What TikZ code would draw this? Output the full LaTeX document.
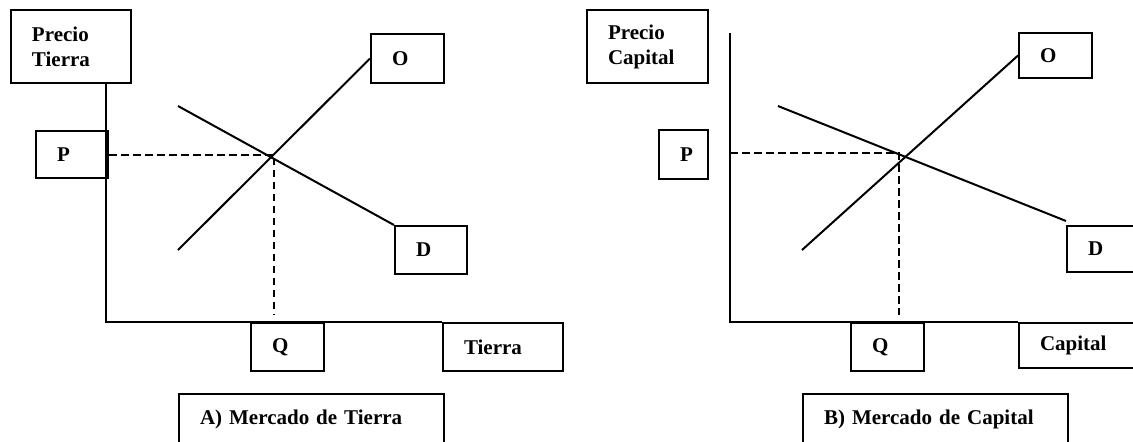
\documentclass[tikz,border=0pt]{standalone}
\usepackage{fontspec}
\setmainfont{Liberation Serif}
\tikzset{
  caja/.style={draw, line width=1pt, anchor=north west, inner xsep=10.5pt,
    inner ysep=0pt, align=left, font=\bfseries\fontsize{10.5}{12.5}\selectfont},
  curva/.style={line width=1pt},
  guia/.style={line width=1pt, dash pattern=on 3.75pt off 2.25pt}
}
\begin{document}
\begin{tikzpicture}[x=.5pt, y=-.5pt]

    \path[use as bounding box, clip] (0,0) rectangle (1133,441); % page

    % A) Mercado de Tierra
    \node[caja, text width=39pt, minimum height=36.5pt] (ptA) at (10,9) {Precio\\Tierra};
    \node[caja, text width=15pt, minimum height=23.5pt] (pA) at (35,130) {P};
    \node[caja, text width=15.5pt, minimum height=24.5pt] (oA) at (370,33) {O};
    \node[caja, text width=15pt, minimum height=24pt] (dA) at (394,225) {D};
    \node[caja, text width=15.5pt, minimum height=24pt] (qA) at (250,322) {Q};
    \node[caja, text width=39pt, minimum height=24pt] (tierra) at (442,322) {Tierra};
    \node[caja, text width=111.5pt, minimum height=25pt] (tituloA) at (178,393) {A) Mercado de Tierra};

    \coordinate (origenA) at (106,322); % corner of the axes
    \coordinate (eqA) at (274,154);     % equilibrium
    \coordinate (dA0) at (178,106);     % demand, upper end
    \coordinate (sA0) at (178,250);     % supply, lower end

    \draw[curva] (ptA.south -| origenA) -- (origenA) -- (tierra.north west); % axes
    \draw[curva] (dA0) -- (dA.north west); % D
    \draw[curva] (sA0) -- (oA.west);       % O
    \draw[guia] (pA.east) -- (pA.east -| eqA) -- (eqA |- 0,315); % P and Q

    % B) Mercado de Capital
    \node[caja, text width=39.5pt, minimum height=36.5pt] (pcB) at (586,9) {Precio\\Capital};
    \node[caja, text width=3.5pt, minimum height=24.5pt] (pB) at (658,129) {P};
    \node[caja, text width=15.5pt, minimum height=22.5pt] (oB) at (1018,32) {O};
    \node[caja, text width=16pt, minimum height=23pt] (dB) at (1066,225) {D};
    \node[caja, text width=15.5pt, minimum height=24pt] (qB) at (850,322) {Q};
    \node[caja, text width=40pt, minimum height=22.5pt] (capital) at (1018,322) {Capital};
    \node[caja, text width=111.5pt, minimum height=25pt] (tituloB) at (802,393) {B) Mercado de Capital};

    \coordinate (origenB) at (730,322); % corner of the axes
    \coordinate (eqB) at (899,153);     % equilibrium
    \coordinate (dB0) at (778,106);     % demand, upper end
    \coordinate (dB1) at (1066,221);    % demand, lower end
    \coordinate (sB0) at (802,250);     % supply, lower end

    \draw[curva] (origenB |- 0,33) -- (origenB) -- (capital.north west); % axes
    \draw[curva] (dB0) -- (dB1);     % D
    \draw[curva] (sB0) -- (oB.west); % O
    \draw[guia] (origenB |- eqB) -- (eqB) -- (eqB |- 0,315); % P and Q

\end{tikzpicture}
\end{document}
